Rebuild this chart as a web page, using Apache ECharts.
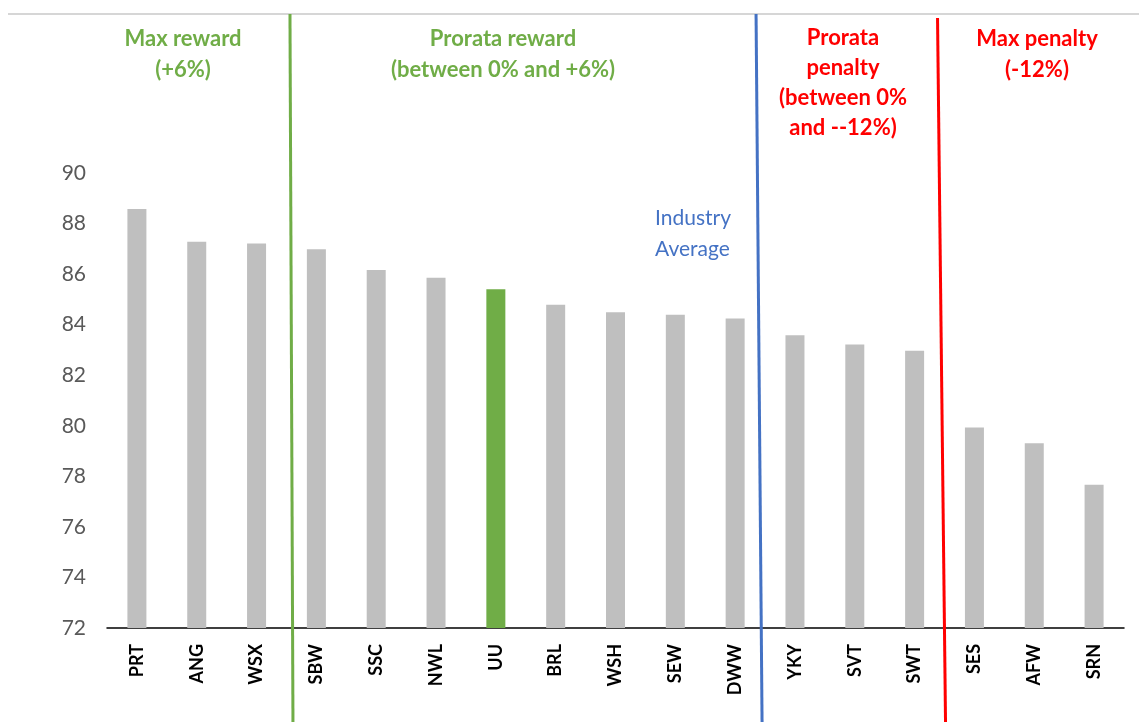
<!DOCTYPE html>
<html>
<head>
<meta charset="utf-8">
<title>Industry scores</title>
<script src="https://cdn.jsdelivr.net/npm/echarts@6/dist/echarts.min.js"></script>
<style>
  html, body { margin: 0; padding: 0; background: #fff; }
  #chart { width: 1139px; height: 722px; }
</style>
</head>
<body>
<div id="chart"></div>
<script>
// 数据
const companies = ["PRT", "ANG", "WSX", "SBW", "SSC", "NWL", "UU", "BRL", "WSH", "SEW", "DWW", "YKY", "SVT", "SWT", "SES", "AFW", "SRN"];
const scores = [88.58, 87.28, 87.21, 86.98, 86.16, 85.86, 85.40, 84.79, 84.49, 84.39, 84.24, 83.58, 83.22, 82.97, 79.93, 79.31, 77.67];
const highlight = "UU";
// 分区：分界线在哪个公司之后
const zoneEnds = ["WSX", "DWW", "SWT"];

const FONT = 'Lato, "Open Sans", sans-serif';
const GREEN = "#70AD47";
const RED = "#FF0000";
const BLUE = "#4472C4";

const chart = echarts.init(document.getElementById("chart"));

chart.setOption({
  animation: false,
  grid: { left: 107, right: 15, top: 173, bottom: 94 },
  xAxis: {
    type: "category",
    data: companies,
    axisLine: { lineStyle: { color: "#000", width: 1.5 } },
    axisTick: { show: false },
    axisLabel: {
      rotate: 90,
      margin: 16,
      color: "#000",
      fontFamily: FONT,
      fontSize: 18,
      fontWeight: "bold",
      interval: 0
    }
  },
  yAxis: {
    type: "value",
    min: 72,
    max: 90,
    interval: 2,
    axisLine: { show: false },
    axisTick: { show: false },
    splitLine: { show: false },
    axisLabel: { color: "#595959", fontFamily: FONT, fontSize: 21, margin: 21 }
  },
  series: [{
    type: "bar",
    barWidth: 19,
    data: scores.map((v, i) => ({
      value: v,
      itemStyle: { color: companies[i] === highlight ? GREEN : "#BFBFBF" }
    }))
  }]
});

// 分界线：用坐标换算得到两个柱子的中点
function boundaryX(name) {
  const i = companies.indexOf(name);
  const a = chart.convertToPixel({ xAxisIndex: 0 }, companies[i]);
  const b = chart.convertToPixel({ xAxisIndex: 0 }, companies[i + 1]);
  return (a + b) / 2;
}
const gx = boundaryX(zoneEnds[0]);
const bx = boundaryX(zoneEnds[1]);
const rx = boundaryX(zoneEnds[2]);

function vline(x1, y1, x2, color) {
  return { type: "line", z: 100, shape: { x1: x1, y1: y1, x2: x2, y2: 722 }, style: { stroke: color, lineWidth: 3 } };
}
function heading(text, cx, top, color, bold) {
  return {
    type: "text", z: 100, left: "center", x: cx, y: top,
    style: {
      text: text, fill: color, font: (bold ? "bold " : "") + "22px " + FONT,
      align: "center", verticalAlign: "top", lineHeight: 31
    }
  };
}

chart.setOption({
  graphic: [
    { type: "line", shape: { x1: 8, y1: 14, x2: 1139, y2: 14 }, style: { stroke: "#C8C8C8", lineWidth: 1.5 } },
    vline(gx + 3.5, 14, gx + 6.5, GREEN),
    vline(bx - 9, 14, bx - 3, BLUE),
    vline(rx - 7, 18, rx + 1, RED),
    { type: "text", x: 183, y: 23, style: { text: "Max reward\n(+6%)", fill: GREEN, font: "bold 22px " + FONT, align: "center", lineHeight: 31 } },
    { type: "text", x: 503, y: 23, style: { text: "Prorata reward\n(between 0% and +6%)", fill: GREEN, font: "bold 22px " + FONT, align: "center", lineHeight: 31 } },
    { type: "text", x: 843, y: 23, style: { text: "Prorata\npenalty\n(between 0%\nand --12%)", fill: RED, font: "bold 22px " + FONT, align: "center", lineHeight: 30 } },
    { type: "text", x: 1037, y: 23, style: { text: "Max penalty\n(-12%)", fill: RED, font: "bold 22px " + FONT, align: "center", lineHeight: 31 } },
    { type: "text", x: 655, y: 203, style: { text: "Industry\nAverage", fill: BLUE, font: "21px " + FONT, align: "left", lineHeight: 31 } }
  ]
});
</script>
</body>
</html>
